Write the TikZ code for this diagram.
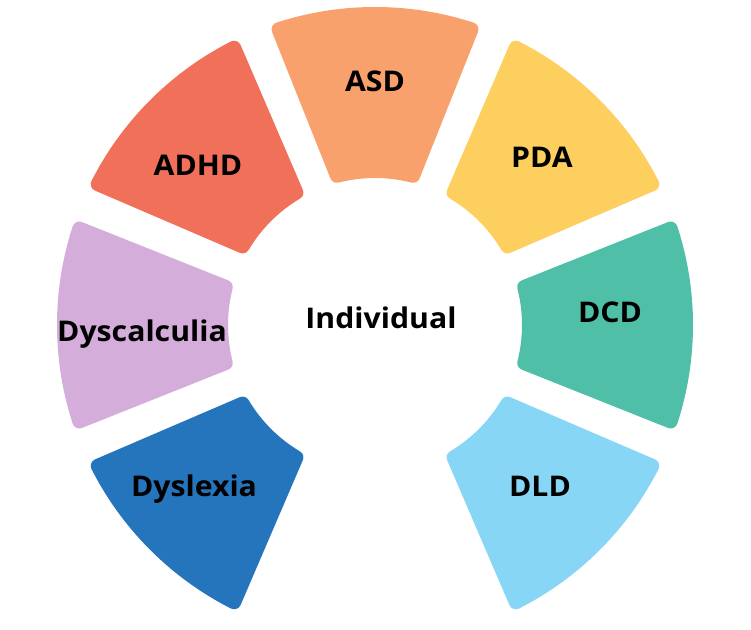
\documentclass[tikz,border=0pt]{standalone}
\usepackage{fontspec}
\setmainfont{Open Sans}[FakeStretch=1.06]
\definecolor{cASD}{RGB}{248,161,108}
\definecolor{cADHD}{RGB}{240,112,90}
\definecolor{cPDA}{RGB}{253,207,95}
\definecolor{cDCD}{RGB}{80,191,168}
\definecolor{cDLD}{RGB}{136,214,245}
\definecolor{cDYSL}{RGB}{37,117,189}
\definecolor{cDYSC}{RGB}{212,173,219}
\tikzset{
  seg/.style={line width=14pt, line join=round},
  lab/.style={font=\fontsize{28.5}{34}\selectfont\bfseries, text=black, inner sep=0pt, text height=20pt, text depth=0pt, anchor=center}
}
\newcommand\drawsector[2]{%
  \filldraw[seg, fill=#2, draw=#2] (#1-18.07:311) arc[start angle=#1-18.07, end angle=#1+18.07, radius=311]
    -- (#1+14.31:154) arc[start angle=#1+14.31, end angle=#1-14.31, radius=154] -- cycle;}
\begin{document}
\begin{tikzpicture}[x=1pt,y=1pt]
\useasboundingbox (-375,325) rectangle (376,-304);
\fill[white] (-375,325) rectangle (376,-304);
\drawsector{90}{cASD}
\drawsector{135}{cADHD}
\drawsector{45}{cPDA}
\drawsector{0}{cDCD}
\drawsector{180}{cDYSC}
\drawsector{225}{cDYSL}
\drawsector{315}{cDLD}
\node[lab] (asd) at (0,243) {ASD};
\node[lab] (adhd) at (-177,159) {ADHD};
\node[lab] (pda) at (167,167) {PDA};
\node[lab] (dcd) at (235,13) {DCD};
\node[lab] (dysc) at (-233,-6) {Dyscalculia};
\node[lab] (dysl) at (-181,-161) {Dyslexia};
\node[lab] (dld) at (165,-161) {DLD};
\node[lab] (ind) at (6,7) {Individual};
\end{tikzpicture}
\end{document}
